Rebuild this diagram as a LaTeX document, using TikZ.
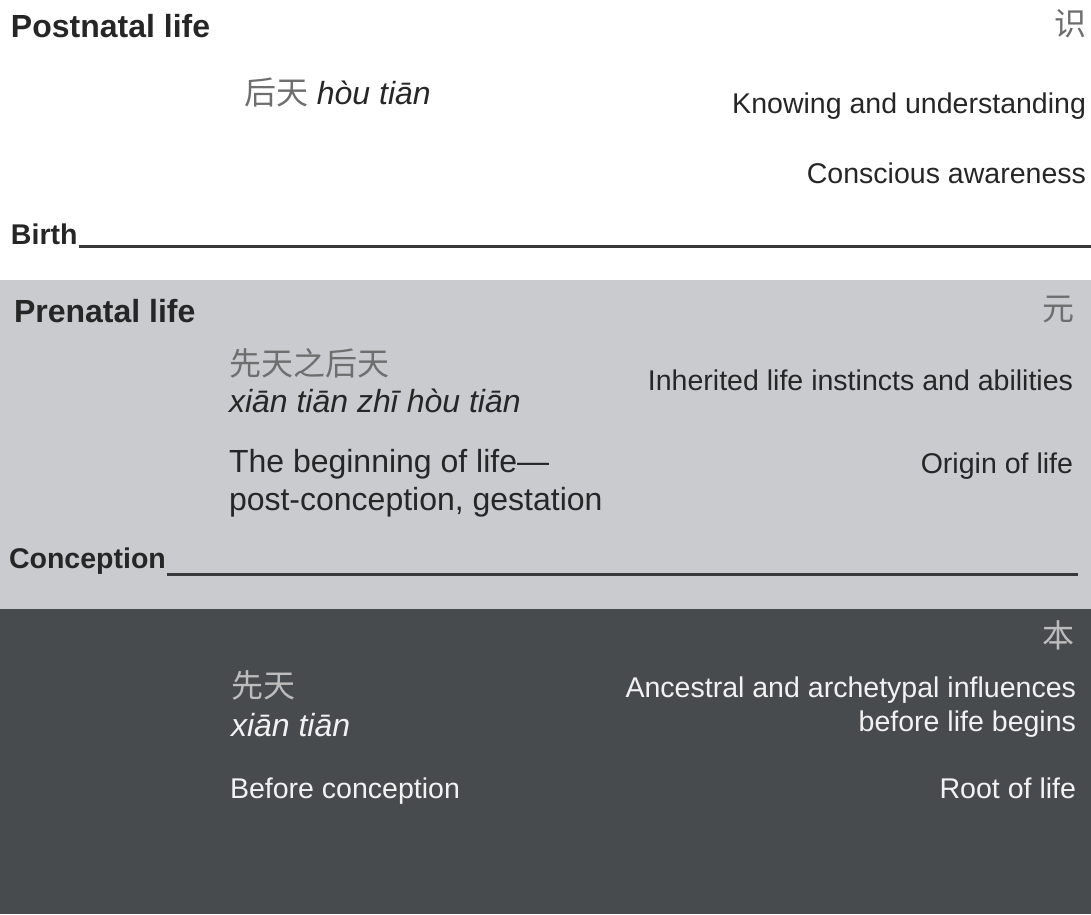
\documentclass[tikz,border=0pt]{standalone}
\usepackage{fontspec}
\setmainfont{Liberation Sans}
\newfontfamily\cjk{Noto Sans CJK SC}
\definecolor{bandlight}{HTML}{C9CBCE}
\definecolor{banddark}{HTML}{484B4E}
\definecolor{ink}{HTML}{262626}
\definecolor{cjkgray}{HTML}{6E6E6E}
\definecolor{cjklight}{HTML}{BDBDBD}
\definecolor{inklight}{HTML}{F2F2F2}
\definecolor{rulecol}{HTML}{383838}
\begin{document}
\begin{tikzpicture}[x=0.75pt,y=-0.75pt,
  txtbase/.style={inner sep=0pt, outer sep=0pt},
  headtxt/.style={txtbase, anchor=base west, text=ink, font=\fontsize{24pt}{28pt}\selectfont\bfseries},
  marktxt/.style={txtbase, anchor=base west, text=ink, font=\fontsize{21.4pt}{25pt}\selectfont\bfseries},
  bodytxt/.style={txtbase, text=ink, font=\fontsize{21.4pt}{26pt}\selectfont},
  bigtxt/.style={txtbase, anchor=base west, text=ink, font=\fontsize{24pt}{28pt}\selectfont},
  pintxt/.style={txtbase, anchor=base west, text=ink, font=\fontsize{24pt}{28pt}\selectfont\itshape},
  hantxt/.style={txtbase, text=cjkgray, font=\fontsize{24pt}{28pt}\selectfont\cjk},
  rulestyle/.style={draw=rulecol, line width=2.25pt}
]
\useasboundingbox (0,0) rectangle (1091,914);
\fill[bandlight] (0,280) rectangle (1091,609);
\fill[banddark] (0,609) rectangle (1091,914);

% Postnatal
\node[headtxt] (post) at (11,37) {Postnatal life};
\node[hantxt, anchor=base east] (shi) at (1086,35) {识};
\node[bigtxt] (hou) at (244,104) {{\cjk\color{cjkgray}后天} \itshape hòu tiān};
\node[bodytxt, anchor=base east] (know) at (1086,113) {Knowing and understanding};
\node[bodytxt, anchor=base east] (consc) at (1086,183) {Conscious awareness};
\node[marktxt] (birth) at (11,244) {Birth};
\coordinate (birthend) at (1091,246);
\draw[rulestyle] (birth.base east |- birthend) ++(1,0) -- (birthend);

% Prenatal
\node[headtxt] (pre) at (14,322) {Prenatal life};
\node[hantxt, anchor=base east] (yuan) at (1074,320) {元};
\node[hantxt, anchor=base west] (xtzht) at (229,375) {先天之后天};
\node[pintxt] (xtzhtp) at (229,412) {xiān tiān zhī hòu tiān};
\node[bodytxt, anchor=base east] (inher) at (1073,390) {Inherited life instincts and abilities};
\node[bigtxt] (begin1) at (229,472) {The beginning of life—};
\node[bigtxt] (begin2) at (229,510) {post-conception, gestation};
\node[bodytxt, anchor=base east] (origin) at (1073,473) {Origin of life};
\node[marktxt] (conc) at (9,568) {Conception};
\coordinate (concend) at (1078,574);
\draw[rulestyle] (conc.base east |- concend) ++(1,0) -- (concend);

% Before conception
\node[hantxt, text=cjklight, anchor=base east] (ben) at (1074,647) {本};
\node[hantxt, text=cjklight, anchor=base west] (xt) at (231,697) {先天};
\node[pintxt, text=inklight] (xtp) at (231,736) {xiān tiān};
\node[bodytxt, text=inklight, anchor=base west] (before) at (230,798) {Before conception};
\node[bodytxt, text=inklight, anchor=base east] (ances1) at (1076,697) {Ancestral and archetypal influences};
\node[bodytxt, text=inklight, anchor=base east] (ances2) at (1076,731) {before life begins};
\node[bodytxt, text=inklight, anchor=base east] (root) at (1076,798) {Root of life};
\end{tikzpicture}
\end{document}
